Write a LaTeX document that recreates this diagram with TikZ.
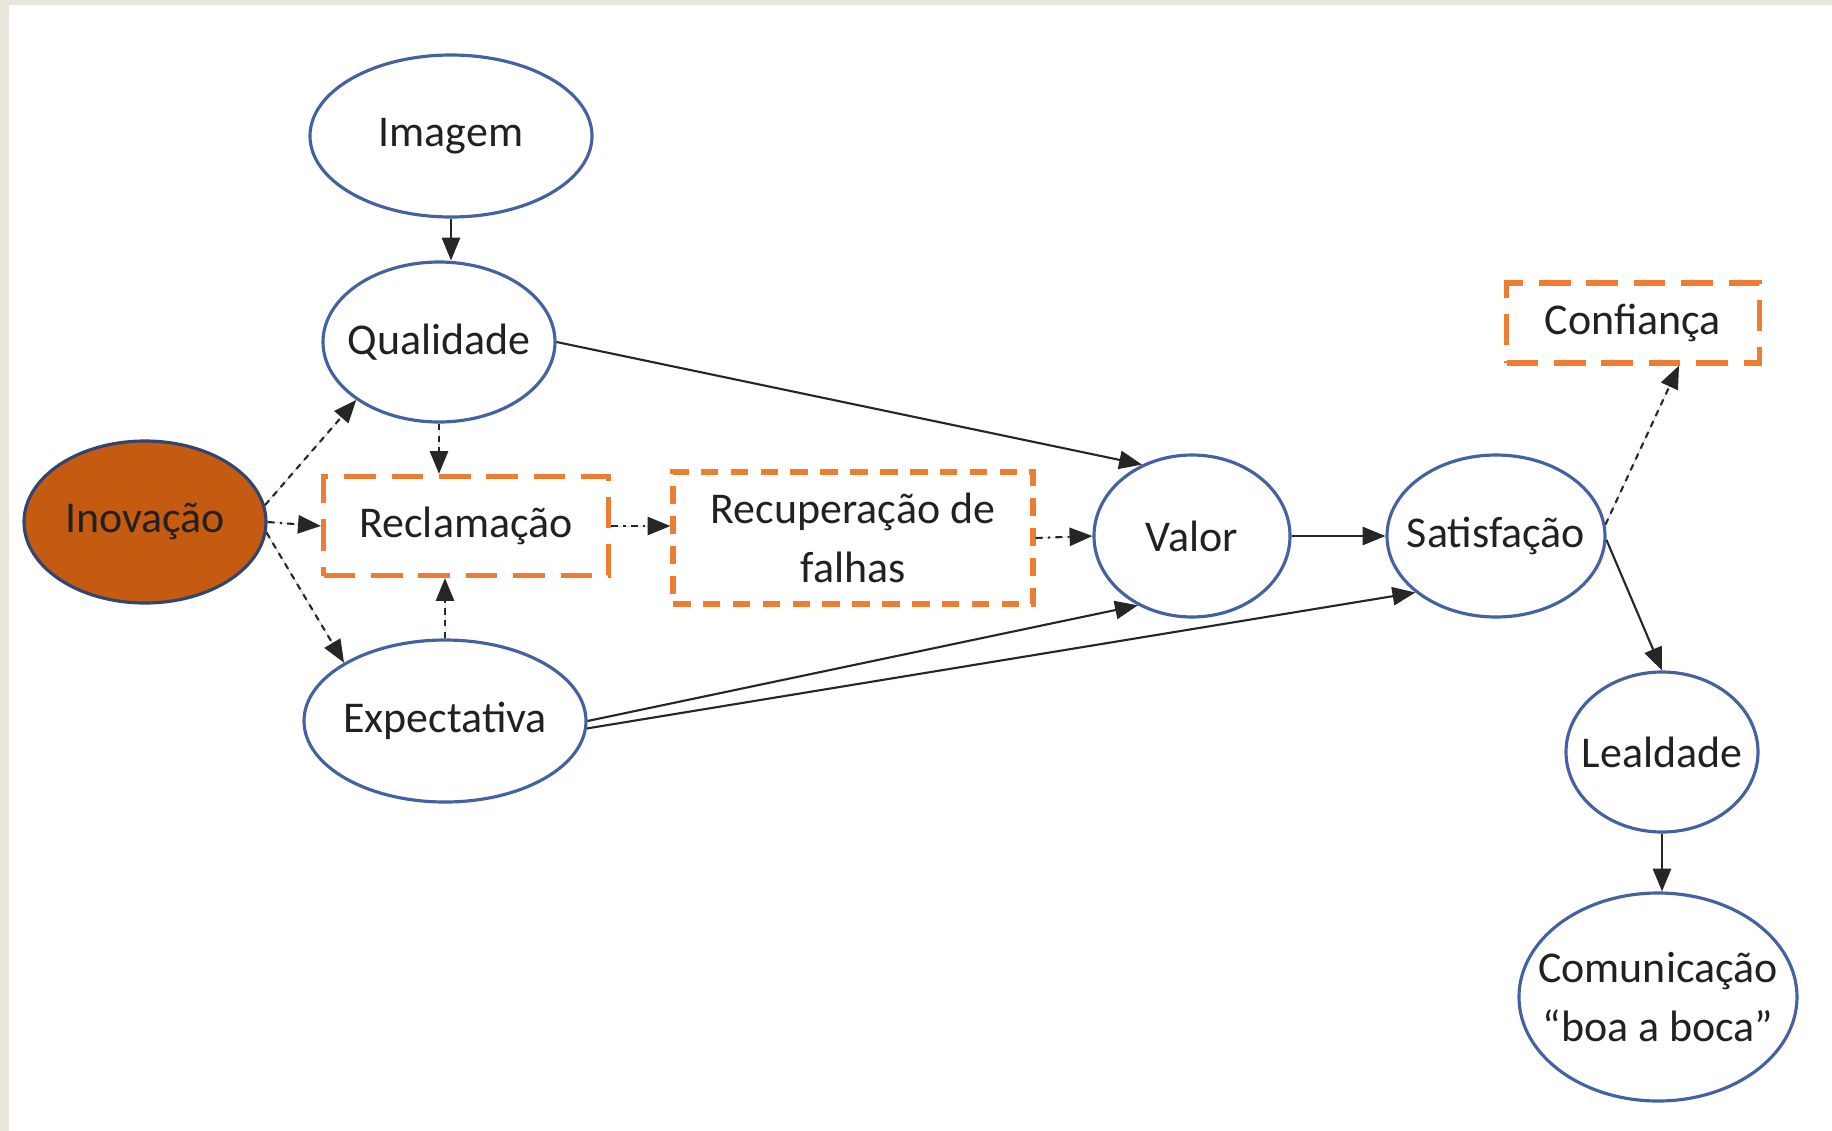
\documentclass[tikz,border=0pt]{standalone}
\usepackage{fontspec}
\setmainfont{Carlito}
\usepackage{tikz}
\usetikzlibrary{positioning, arrows.meta, shapes.geometric, calc}
\usepackage{xcolor}
\definecolor{borderblue}{RGB}{68, 98, 160}
\definecolor{innovorange}{RGB}{197, 90, 17}
\definecolor{dashorange}{RGB}{237, 125, 49}
\definecolor{framebeige}{RGB}{234, 230, 220}
\definecolor{textgray}{RGB}{33, 33, 33}

\begin{document}
\begin{tikzpicture}[
    construto/.style={ellipse, draw=borderblue, line width=0.9pt, fill=white, inner ysep=0pt, inner xsep=-3mm, align=center, text=textgray, font=\fontsize{12.5}{17}\selectfont},
    moderador/.style={rectangle, draw=dashorange, line width=1.5pt, dash pattern=on 9pt off 4.5pt, fill=white, inner sep=0pt, align=center, text=textgray, font=\fontsize{12.5}{17}\selectfont},
    seta/.style={-{Triangle[length=6.5pt, width=5.2pt]}, line width=0.6pt, draw=black!85, fill=black},
    setatrac/.style={seta, dash pattern=on 1.8pt off 1.6pt},
    setaponto/.style={seta, dash pattern=on 2pt off 1.5pt on 0.6pt off 1.5pt}
]
    % frame
    \fill[framebeige] (0,0) rectangle (18.32,-11.31);
    \fill[white] (0.09,-0.05) rectangle (18.32,-11.31);
    \useasboundingbox (0,0) rectangle (18.32,-11.31);

    % left column
    \node[construto, minimum width=2.82cm, minimum height=1.62cm] (imagem) at (4.51,-1.36) {Imagem};
    \node[construto, minimum width=2.32cm, minimum height=1.60cm] (qualidade) at (4.39,-3.42) {Qualidade};
    \node[construto, minimum width=2.42cm, minimum height=1.62cm, fill=innovorange, draw=borderblue!70!black] (inovacao) at (1.45,-5.22) {Inovação};
    \node[construto, minimum width=2.82cm, minimum height=1.62cm] (expectativa) at (4.45,-7.21) {Expectativa};

    % dashed boxes
    \node[moderador, minimum width=2.85cm, minimum height=0.99cm] (reclamacao) at (4.66,-5.26) {Reclamação};
    \node[moderador, minimum width=3.60cm, minimum height=1.32cm, dash pattern=on 5pt off 3.5pt] (recuperacao) at (8.53,-5.38) {Recuperação de\\falhas};
    \node[moderador, minimum width=2.53cm, minimum height=0.80cm] (confianca) at (16.33,-3.23) {Confiança};

    % right side
    \node[construto, minimum width=1.96cm, minimum height=1.62cm] (valor) at (11.92,-5.36) {Valor};
    \node[construto, minimum width=2.18cm, minimum height=1.62cm] (satisfacao) at (14.96,-5.36) {Satisfação};
    \node[construto, minimum width=1.92cm, minimum height=1.60cm] (lealdade) at (16.62,-7.52) {Lealdade};
    \node[construto, minimum width=2.78cm, minimum height=2.08cm] (comunicacao) at (16.58,-9.97) {Comunicação\\“boa a boca”};

    % solid arrows
    \draw[seta] (imagem.south) -- (imagem.south |- qualidade.north);
    \draw[seta] (qualidade.east) -- (valor.125);
    \draw[seta] (expectativa.east) -- (valor.232);
    \draw[seta] (expectativa.-3) -- (satisfacao.215);
    \draw[seta] (valor.east) -- (satisfacao.west);
    \draw[seta] (satisfacao.-2) -- (lealdade.north);
    \draw[seta] (lealdade.south) -- (lealdade.south |- comunicacao.north);

    % dashed arrows
    \draw[setatrac] (inovacao.8) -- (qualidade.215);
    \draw[setatrac] (inovacao.-5) -- (expectativa.150);
    \draw[setatrac] (qualidade.south) -- (qualidade.south |- reclamacao.north);
    \draw[setatrac] (expectativa.north) -- (expectativa.north |- reclamacao.south);
    \draw[setatrac] (satisfacao.6) -- ([xshift=4.6mm]confianca.south);

    % dash-dot arrows
    \draw[setaponto] (inovacao.east) -- (reclamacao.west);
    \draw[setaponto] (reclamacao.east) -- (reclamacao.east -| recuperacao.west);
    \draw[setaponto] (recuperacao.east) -- (valor.west);
\end{tikzpicture}
\end{document}
